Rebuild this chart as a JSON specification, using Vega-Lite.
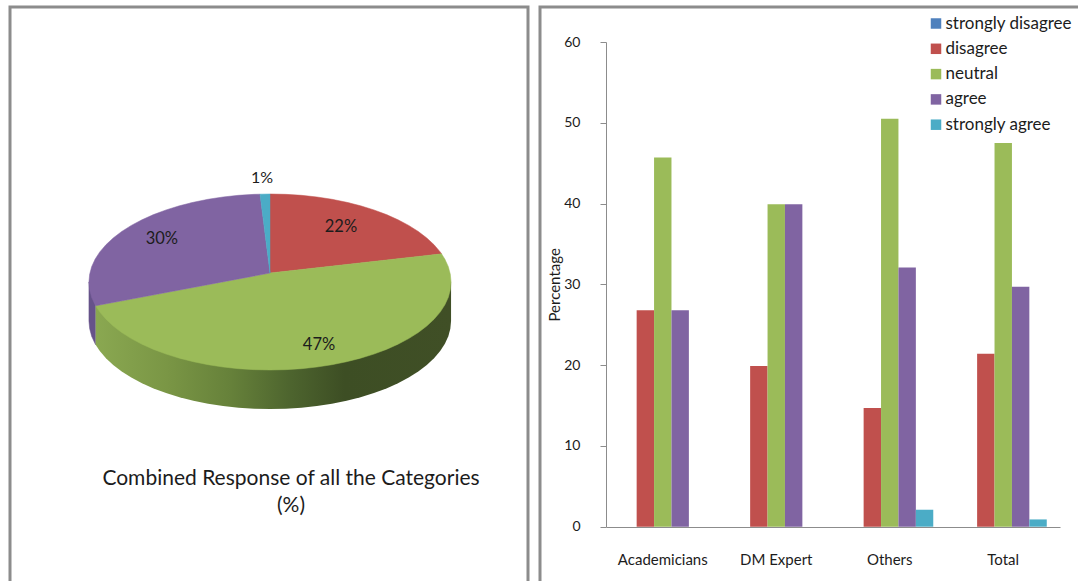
{
  "$schema": "https://vega.github.io/schema/vega-lite/v6.json",
  "padding": {"left": 8, "top": 5, "right": 0, "bottom": 0},
  "background": "white",
  "spacing": 12,
  "bounds": "flush",
  "config": {"font": "Lato", "concat": {"spacing": 12}},
  "datasets": {
    "pieOutline": [
      {"part":"wallGreen","n":0,"u":-0.963,"v":-0.27},{"part":"wallGreen","n":1,"u":-0.963,"v":-0.713},{"part":"wallGreen","n":2,"u":-0.94,"v":-0.785},{"part":"wallGreen","n":3,"u":-0.906,"v":-0.866},{"part":"wallGreen","n":4,"u":-0.866,"v":-0.943},{"part":"wallGreen","n":5,"u":-0.819,"v":-1.017},{"part":"wallGreen","n":6,"u":-0.766,"v":-1.086},{"part":"wallGreen","n":7,"u":-0.707,"v":-1.15},{"part":"wallGreen","n":8,"u":-0.643,"v":-1.209},{"part":"wallGreen","n":9,"u":-0.574,"v":-1.262},{"part":"wallGreen","n":10,"u":-0.5,"v":-1.309},{"part":"wallGreen","n":11,"u":-0.423,"v":-1.349},{"part":"wallGreen","n":12,"u":-0.342,"v":-1.383},{"part":"wallGreen","n":13,"u":-0.259,"v":-1.409},{"part":"wallGreen","n":14,"u":-0.174,"v":-1.428},{"part":"wallGreen","n":15,"u":-0.087,"v":-1.439},{"part":"wallGreen","n":16,"u":0,"v":-1.443},{"part":"wallGreen","n":17,"u":0.087,"v":-1.439},{"part":"wallGreen","n":18,"u":0.174,"v":-1.428},{"part":"wallGreen","n":19,"u":0.259,"v":-1.409},{"part":"wallGreen","n":20,"u":0.342,"v":-1.383},{"part":"wallGreen","n":21,"u":0.423,"v":-1.349},{"part":"wallGreen","n":22,"u":0.5,"v":-1.309},{"part":"wallGreen","n":23,"u":0.574,"v":-1.262},{"part":"wallGreen","n":24,"u":0.643,"v":-1.209},{"part":"wallGreen","n":25,"u":0.707,"v":-1.15},{"part":"wallGreen","n":26,"u":0.766,"v":-1.086},{"part":"wallGreen","n":27,"u":0.819,"v":-1.017},{"part":"wallGreen","n":28,"u":0.866,"v":-0.943},{"part":"wallGreen","n":29,"u":0.906,"v":-0.866},{"part":"wallGreen","n":30,"u":0.94,"v":-0.785},{"part":"wallGreen","n":31,"u":0.966,"v":-0.702},{"part":"wallGreen","n":32,"u":0.985,"v":-0.617},{"part":"wallGreen","n":33,"u":0.996,"v":-0.53},{"part":"wallGreen","n":34,"u":1,"v":-0.443},{"part":"wallGreen","n":35,"u":1,"v":0},{"part":"wallGreen","n":36,"u":-0.963,"v":-0.27},
      {"part":"wallPurple","n":0,"u":-1,"v":0},{"part":"wallPurple","n":1,"u":-0.963,"v":-0.27},{"part":"wallPurple","n":2,"u":-0.963,"v":-0.713},{"part":"wallPurple","n":3,"u":-0.966,"v":-0.702},{"part":"wallPurple","n":4,"u":-0.985,"v":-0.617},{"part":"wallPurple","n":5,"u":-0.996,"v":-0.53},{"part":"wallPurple","n":6,"u":-1,"v":-0.443},{"part":"wallPurple","n":7,"u":-1,"v":0},
      {"part":"disagree","n":0,"u":0,"v":0.102},{"part":"disagree","n":1,"u":0,"v":1},{"part":"disagree","n":2,"u":0.087,"v":0.996},{"part":"disagree","n":3,"u":0.174,"v":0.985},{"part":"disagree","n":4,"u":0.259,"v":0.966},{"part":"disagree","n":5,"u":0.342,"v":0.94},{"part":"disagree","n":6,"u":0.423,"v":0.906},{"part":"disagree","n":7,"u":0.5,"v":0.866},{"part":"disagree","n":8,"u":0.574,"v":0.819},{"part":"disagree","n":9,"u":0.643,"v":0.766},{"part":"disagree","n":10,"u":0.707,"v":0.707},{"part":"disagree","n":11,"u":0.766,"v":0.643},{"part":"disagree","n":12,"u":0.819,"v":0.574},{"part":"disagree","n":13,"u":0.866,"v":0.5},{"part":"disagree","n":14,"u":0.906,"v":0.423},{"part":"disagree","n":15,"u":0.94,"v":0.342},{"part":"disagree","n":16,"u":0.9475,"v":0.32},{"part":"disagree","n":17,"u":0,"v":0.102},
      {"part":"neutral","n":0,"u":0,"v":0.102},{"part":"neutral","n":1,"u":0.9475,"v":0.32},{"part":"neutral","n":2,"u":0.966,"v":0.259},{"part":"neutral","n":3,"u":0.985,"v":0.174},{"part":"neutral","n":4,"u":0.996,"v":0.087},{"part":"neutral","n":5,"u":1,"v":0},{"part":"neutral","n":6,"u":0.996,"v":-0.087},{"part":"neutral","n":7,"u":0.985,"v":-0.174},{"part":"neutral","n":8,"u":0.966,"v":-0.259},{"part":"neutral","n":9,"u":0.94,"v":-0.342},{"part":"neutral","n":10,"u":0.906,"v":-0.423},{"part":"neutral","n":11,"u":0.866,"v":-0.5},{"part":"neutral","n":12,"u":0.819,"v":-0.574},{"part":"neutral","n":13,"u":0.766,"v":-0.643},{"part":"neutral","n":14,"u":0.707,"v":-0.707},{"part":"neutral","n":15,"u":0.643,"v":-0.766},{"part":"neutral","n":16,"u":0.574,"v":-0.819},{"part":"neutral","n":17,"u":0.5,"v":-0.866},{"part":"neutral","n":18,"u":0.423,"v":-0.906},{"part":"neutral","n":19,"u":0.342,"v":-0.94},{"part":"neutral","n":20,"u":0.259,"v":-0.966},{"part":"neutral","n":21,"u":0.174,"v":-0.985},{"part":"neutral","n":22,"u":0.087,"v":-0.996},{"part":"neutral","n":23,"u":0,"v":-1},{"part":"neutral","n":24,"u":-0.087,"v":-0.996},{"part":"neutral","n":25,"u":-0.174,"v":-0.985},{"part":"neutral","n":26,"u":-0.259,"v":-0.966},{"part":"neutral","n":27,"u":-0.342,"v":-0.94},{"part":"neutral","n":28,"u":-0.423,"v":-0.906},{"part":"neutral","n":29,"u":-0.5,"v":-0.866},{"part":"neutral","n":30,"u":-0.574,"v":-0.819},{"part":"neutral","n":31,"u":-0.643,"v":-0.766},{"part":"neutral","n":32,"u":-0.707,"v":-0.707},{"part":"neutral","n":33,"u":-0.766,"v":-0.643},{"part":"neutral","n":34,"u":-0.819,"v":-0.574},{"part":"neutral","n":35,"u":-0.866,"v":-0.5},{"part":"neutral","n":36,"u":-0.906,"v":-0.423},{"part":"neutral","n":37,"u":-0.94,"v":-0.342},{"part":"neutral","n":38,"u":-0.963,"v":-0.27},{"part":"neutral","n":39,"u":0,"v":0.102},
      {"part":"agree","n":0,"u":0,"v":0.102},{"part":"agree","n":1,"u":-0.963,"v":-0.27},{"part":"agree","n":2,"u":-0.966,"v":-0.259},{"part":"agree","n":3,"u":-0.985,"v":-0.174},{"part":"agree","n":4,"u":-0.996,"v":-0.087},{"part":"agree","n":5,"u":-1,"v":0},{"part":"agree","n":6,"u":-0.996,"v":0.087},{"part":"agree","n":7,"u":-0.985,"v":0.174},{"part":"agree","n":8,"u":-0.966,"v":0.259},{"part":"agree","n":9,"u":-0.94,"v":0.342},{"part":"agree","n":10,"u":-0.906,"v":0.423},{"part":"agree","n":11,"u":-0.866,"v":0.5},{"part":"agree","n":12,"u":-0.819,"v":0.574},{"part":"agree","n":13,"u":-0.766,"v":0.643},{"part":"agree","n":14,"u":-0.707,"v":0.707},{"part":"agree","n":15,"u":-0.643,"v":0.766},{"part":"agree","n":16,"u":-0.574,"v":0.819},{"part":"agree","n":17,"u":-0.5,"v":0.866},{"part":"agree","n":18,"u":-0.423,"v":0.906},{"part":"agree","n":19,"u":-0.342,"v":0.94},{"part":"agree","n":20,"u":-0.259,"v":0.966},{"part":"agree","n":21,"u":-0.174,"v":0.985},{"part":"agree","n":22,"u":-0.087,"v":0.996},{"part":"agree","n":23,"u":-0.055,"v":0.998},{"part":"agree","n":24,"u":0,"v":0.102},
      {"part":"stronglyAgree","n":0,"u":0,"v":0.102},{"part":"stronglyAgree","n":1,"u":-0.055,"v":0.998},{"part":"stronglyAgree","n":2,"u":0,"v":1},{"part":"stronglyAgree","n":3,"u":0,"v":0.102}
    ],
    "pieLabels": [
      {"label":"1%","u":-0.044,"v":1.18,"size":16},
      {"label":"22%","u":0.392,"v":0.625,"size":16.5},
      {"label":"30%","u":-0.597,"v":0.489,"size":16.5},
      {"label":"47%","u":0.271,"v":-0.716,"size":16.5},
      {"label":"Combined Response of all the Categories","u":0.116,"v":-2.238,"size":21},
      {"label":"(%)","u":0.116,"v":-2.545,"size":21}
    ],
    "responses": [
      {"group":"Academicians","response":"strongly disagree","pct":0},
      {"group":"Academicians","response":"disagree","pct":26.8},
      {"group":"Academicians","response":"neutral","pct":45.7},
      {"group":"Academicians","response":"agree","pct":26.8},
      {"group":"Academicians","response":"strongly agree","pct":0},
      {"group":"DM Expert","response":"strongly disagree","pct":0},
      {"group":"DM Expert","response":"disagree","pct":19.9},
      {"group":"DM Expert","response":"neutral","pct":39.9},
      {"group":"DM Expert","response":"agree","pct":39.9},
      {"group":"DM Expert","response":"strongly agree","pct":0},
      {"group":"Others","response":"strongly disagree","pct":0},
      {"group":"Others","response":"disagree","pct":14.7},
      {"group":"Others","response":"neutral","pct":50.5},
      {"group":"Others","response":"agree","pct":32.1},
      {"group":"Others","response":"strongly agree","pct":2.1},
      {"group":"Total","response":"strongly disagree","pct":0},
      {"group":"Total","response":"disagree","pct":21.4},
      {"group":"Total","response":"neutral","pct":47.5},
      {"group":"Total","response":"agree","pct":29.7},
      {"group":"Total","response":"strongly agree","pct":0.9}
    ]
  },
  "hconcat": [
    {
      "width": 518,
      "height": 580,
      "view": {"stroke": "#8c8c8c", "strokeWidth": 3, "fill": "white"},
      "data": {"name": "pieOutline"},
      "encoding": {
        "x": {"field": "u", "type": "quantitative", "axis": null, "scale": {"domain": [-1.436, 1.425], "nice": false, "zero": false}},
        "y": {"field": "v", "type": "quantitative", "axis": null, "scale": {"domain": [-3.466, 3.125], "nice": false, "zero": false}},
        "order": {"field": "n", "type": "quantitative"}
      },
      "layer": [
        {
          "transform": [{"filter": "datum.part === 'wallPurple'"}],
          "mark": {"type": "line", "fill": "#66528a", "stroke": "#66528a", "strokeWidth": 0.5}
        },
        {
          "transform": [{"filter": "datum.part === 'wallGreen'"}],
          "mark": {
            "type": "line",
            "strokeWidth": 0,
            "fill": {
              "gradient": "linear", "x1": 0, "y1": 0, "x2": 1, "y2": 0,
              "stops": [
                {"offset": 0, "color": "#8aa851"},
                {"offset": 0.2, "color": "#7a9645"},
                {"offset": 0.38, "color": "#66813a"},
                {"offset": 0.55, "color": "#4d642e"},
                {"offset": 0.7, "color": "#3d4e24"},
                {"offset": 1, "color": "#404f26"}
              ]
            }
          }
        },
        {
          "transform": [{"filter": "datum.part === 'disagree'"}],
          "mark": {"type": "line", "fill": "#c0504d", "stroke": "#c0504d", "strokeWidth": 0.5}
        },
        {
          "transform": [{"filter": "datum.part === 'neutral'"}],
          "mark": {"type": "line", "fill": "#9bbb59", "stroke": "#9bbb59", "strokeWidth": 0.5}
        },
        {
          "transform": [{"filter": "datum.part === 'agree'"}],
          "mark": {"type": "line", "fill": "#8064a2", "stroke": "#8064a2", "strokeWidth": 0.5}
        },
        {
          "transform": [{"filter": "datum.part === 'stronglyAgree'"}],
          "mark": {"type": "line", "fill": "#4bacc6", "stroke": "#4bacc6", "strokeWidth": 0.5}
        },
        {
          "data": {"name": "pieLabels"},
          "mark": {"type": "text", "align": "center", "baseline": "middle", "color": "#1c1c1c"},
          "encoding": {
            "text": {"field": "label", "type": "nominal"},
            "size": {"field": "size", "type": "quantitative", "scale": null},
            "order": {"value": null}
          }
        }
      ]
    },
    {
      "width": 545,
      "height": 580,
      "view": {"stroke": "#8c8c8c", "strokeWidth": 3, "fill": "white"},
      "data": {"name": "responses"},
      "mark": {"type": "bar"},
      "encoding": {
        "x": {
          "field": "group", "type": "nominal", "sort": null,
          "scale": {"range": [66, 520], "paddingInner": 0.233, "paddingOuter": 0.1167},
          "axis": {"title": null, "labelAngle": 0, "tickSize": 0, "labelPadding": 25, "offset": -60, "labelFontSize": 15, "labelColor": "#1c1c1c", "domainColor": "#8c8c8c", "domainWidth": 1.2, "grid": false}
        },
        "xOffset": {
          "field": "response", "type": "nominal",
          "sort": ["strongly disagree", "disagree", "neutral", "agree", "strongly agree"]
        },
        "y": {
          "field": "pct", "type": "quantitative",
          "scale": {"domain": [0, 60], "range": [519.7, 35], "nice": false},
          "axis": {"title": "Percentage", "titleFontSize": 15, "titleFontWeight": "normal", "titleColor": "#1c1c1c", "titlePadding": 1, "values": [0, 10, 20, 30, 40, 50, 60], "tickSize": 6, "tickColor": "#8c8c8c", "domainColor": "#8c8c8c", "labelFontSize": 14, "labelColor": "#1c1c1c", "labelPadding": 20, "offset": -66, "grid": false}
        },
        "color": {
          "field": "response", "type": "nominal",
          "sort": ["strongly disagree", "disagree", "neutral", "agree", "strongly agree"],
          "scale": {
            "domain": ["strongly disagree", "disagree", "neutral", "agree", "strongly agree"],
            "range": ["#4f81bd", "#c0504d", "#9bbb59", "#8064a2", "#4bacc6"]
          },
          "legend": {
            "title": null, "orient": "none", "legendX": 917.5, "legendY": 8,
            "symbolType": "square", "symbolSize": 110, "symbolStrokeWidth": 0, "symbolOpacity": 1,
            "labelFontSize": 17, "labelColor": "#1c1c1c", "labelOffset": 1, "rowPadding": 7.3
          }
        }
      }
    }
  ]
}
